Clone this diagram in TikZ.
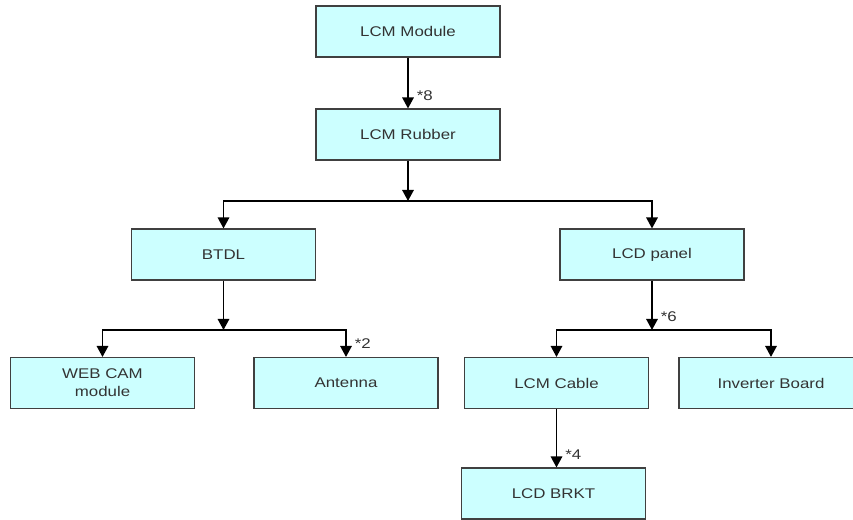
\documentclass[tikz,border=0pt]{standalone}
\usepackage{fontspec}
\setmainfont{Liberation Sans}[FakeStretch=1.2]
\usepackage{xcolor}
\usetikzlibrary{arrows.meta, positioning, calc}
\definecolor{boxcyan}{HTML}{CCFFFF}
\definecolor{boxline}{HTML}{404040}
\definecolor{boxtext}{HTML}{333333}

\begin{document}
\begin{tikzpicture}[
    x=0.02cm, y=-0.02cm,
    box/.style={draw=boxline, fill=boxcyan, line width=0.6pt, minimum width=3.68cm, minimum height=1.02cm, font=\fontsize{8}{10.2}\selectfont, text=boxtext, align=center, inner sep=0pt},
    arr/.style={-{Triangle[length=6.3pt, width=6.5pt]}, line width=1.1pt},
    qty/.style={anchor=south west, inner sep=0pt, xshift=4.5pt, yshift=4pt, text=boxtext, font=\fontsize{8}{10}\selectfont},
]
    \useasboundingbox (0,0) rectangle (853,520);
    \fill[white] (0,0) rectangle (853,520);

    \node[box] (module) at (408, 31.5) {LCM Module};
    \node[box] (rubber) at (408, 134.5) {LCM Rubber};
    \node[box] (btdl) at (223.5, 254.5) {BTDL};
    \node[box] (panel) at (652, 254.5) {LCD panel};
    \node[box] (webcam) at (102.5, 383) {WEB CAM\\module};
    \node[box] (antenna) at (346, 383) {Antenna};
    \node[box] (cable) at (556.5, 383) {LCM Cable};
    \node[box] (inverter) at (771, 383) {Inverter Board};
    \node[box] (brkt) at (553.5, 493.5) {LCD BRKT};

    \coordinate (split1) at (408, 201);
    \coordinate (split2) at (223.5, 330);
    \coordinate (split3) at (652, 330);

    \draw[arr] (module) -- (rubber) node[qty, pos=1] {*8};
    \draw[arr] (rubber) -- (split1);
    \draw[arr] (split1) -| (btdl);
    \draw[arr] (split1) -| (panel);
    \draw[arr] (btdl) -- (split2);
    \draw[arr] (split2) -| (webcam);
    \draw[arr] (split2) -| (antenna) node[qty, pos=1] {*2};
    \draw[arr] (panel) -- (split3) node[qty, pos=1] {*6};
    \draw[arr] (split3) -| (cable);
    \draw[arr] (split3) -| (inverter);
    \draw[arr] (cable) -- (cable |- brkt.north) node[qty, pos=1] {*4};
\end{tikzpicture}
\end{document}
